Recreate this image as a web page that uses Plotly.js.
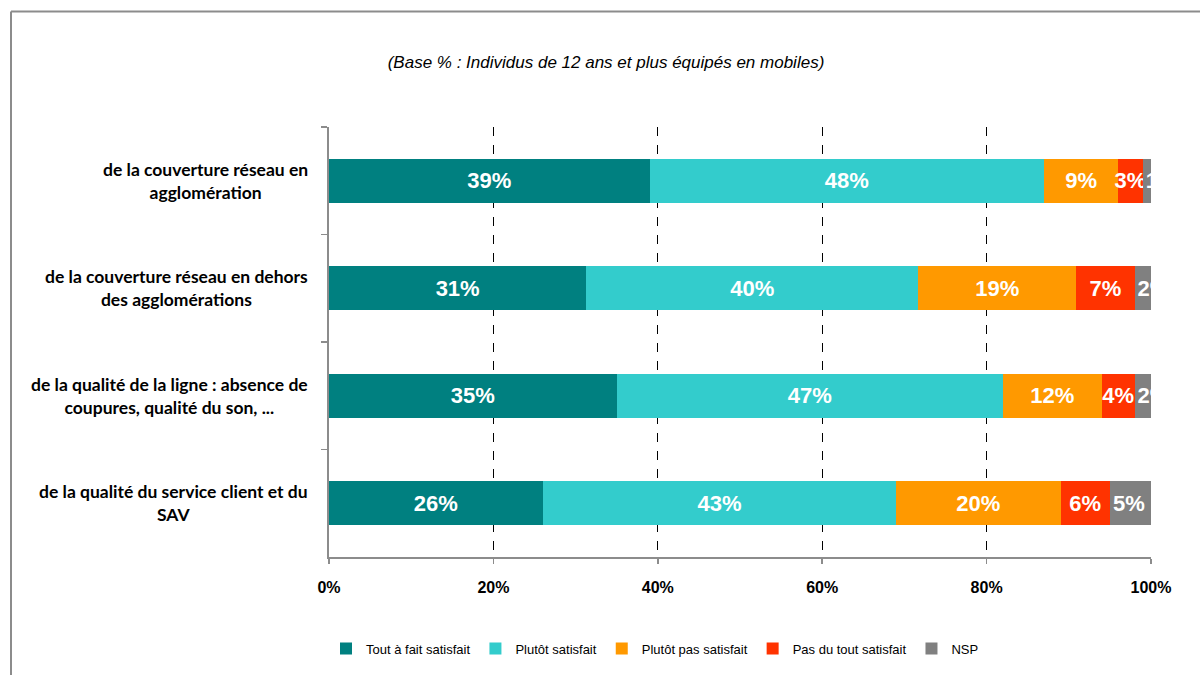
<!DOCTYPE html>
<html>
<head>
<meta charset="utf-8">
<script src="https://cdn.plot.ly/plotly-3.0.1.min.js"></script>
<style>
  html, body { margin: 0; padding: 0; background: #ffffff; }
  #chart { width: 1200px; height: 675px; }
</style>
</head>
<body>
<div id="chart"></div>
<script>
// Categories (top to bottom)
const categories = [
  "de la couverture réseau en<br>agglomération",
  "de la couverture réseau en dehors<br>des agglomérations",
  "de la qualité de la ligne : absence de<br>coupures, qualité du son, ...",
  "de la qualité du service client et du<br>SAV"
];
const categoryKeys = ["c1", "c2", "c3", "c4"];

// Series values (%)
const toutAFait   = [39, 31.3, 35, 26];
const plutotSat   = [48, 40.4, 47, 43];
const plutotPas   = [9, 19.2, 12, 20];
const pasDuTout   = [3, 7.1, 4, 6];
const nsp         = [1, 2, 2, 5];

const seriesNames  = ["Tout à fait satisfait", "Plutôt satisfait", "Plutôt pas satisfait", "Pas du tout satisfait", "NSP"];
const seriesValues = [toutAFait, plutotSat, plutotPas, pasDuTout, nsp];
const seriesColors = ["#008080", "#33CCCC", "#FF9900", "#FF3300", "#808080"];

const xTickVals  = [0, 20, 40, 60, 80, 100];
const xTickText  = ["0%", "20%", "40%", "60%", "80%", "100%"];
const titleText  = "(Base % : Individus de 12 ans et plus équipés en mobiles)";

const traces = seriesValues.map((vals, i) => ({
  type: "bar",
  orientation: "h",
  name: seriesNames[i],
  y: categoryKeys,
  x: vals,
  width: 0.41,
  marker: { color: seriesColors[i], line: { width: 0 } },
  text: vals.map(v => Math.round(v) + "%"),
  texttemplate: "%{text}",
  textposition: "inside",
  insidetextanchor: i === 4 ? "start" : "middle",
  textangle: 0,
  constraintext: "none",
  cliponaxis: true,
  textfont: { family: "Liberation Sans, Arial, sans-serif", size: 22, color: "#ffffff", weight: "bold" },
  hoverinfo: "name+x"
}));

const annotations = categories.map((c, i) => ({
  xref: "paper", yref: "y",
  x: -0.023, y: categoryKeys[i],
  xanchor: "right", yanchor: "middle",
  align: "center",
  text: c,
  showarrow: false,
  font: { family: "Lato, 'Open Sans', sans-serif", size: 17.5, color: "#000000", weight: "bold" }
}));

const layout = {
  width: 1200, height: 675,
  paper_bgcolor: "#ffffff", plot_bgcolor: "#ffffff",
  margin: { l: 329, r: 49, t: 127, b: 116, pad: 0 },
  barmode: "stack",
  bargap: 0.59,
  uniformtext: { mode: "show", minsize: 22 },
  title: {
    text: "<i>" + titleText + "</i>",
    x: 606 / 1200, xref: "container", xanchor: "center",
    y: 1 - 62 / 675, yref: "container", yanchor: "middle",
    font: { family: "Liberation Sans, Arial, sans-serif", size: 17, color: "#000000" }
  },
  xaxis: {
    range: [0, 100],
    tickvals: xTickVals,
    ticktext: xTickText,
    showgrid: true,
    gridcolor: "#000000",
    griddash: "dash",
    gridwidth: 1,
    zeroline: false,
    showline: true,
    linecolor: "#8c8c8c",
    linewidth: 2,
    ticks: "outside",
    ticklen: 5,
    tickcolor: "#8c8c8c",
    tickwidth: 1.5,
    ticklabelstandoff: 10,
    tickfont: { family: "Liberation Sans, Arial, sans-serif", size: 16, color: "#000000", weight: "bold" },
    fixedrange: true
  },
  yaxis: {
    type: "category",
    categoryorder: "array",
    categoryarray: categoryKeys,
    range: [3.5, -0.5],
    showticklabels: false,
    showgrid: false,
    zeroline: false,
    showline: true,
    linecolor: "#8c8c8c",
    linewidth: 2,
    ticks: "outside",
    tickson: "boundaries",
    ticklen: 6,
    tickcolor: "#8c8c8c",
    tickwidth: 1.5,
    fixedrange: true
  },
  showlegend: true,
  legend: {
    orientation: "h",
    x: 0.5 + (655 - 740) / 822, xanchor: "center",
    y: -(651 - 559) / 432, yanchor: "middle",
    font: { family: "Liberation Sans, Arial, sans-serif", size: 13, color: "#000000" },
    itemwidth: 30,
    traceorder: "normal",
    bgcolor: "rgba(0,0,0,0)"
  },
  annotations: annotations,
  shapes: [
    {
      type: "line", xref: "paper", yref: "paper",
      x0: (11 - 329) / 822, x1: (1210 - 329) / 822,
      y0: (559 - 11) / 432, y1: (559 - 11) / 432,
      line: { color: "#8c8c8c", width: 2 }
    },
    {
      type: "line", xref: "paper", yref: "paper",
      x0: (11 - 329) / 822, x1: (11 - 329) / 822,
      y0: (559 - 11) / 432, y1: (559 - 690) / 432,
      line: { color: "#8c8c8c", width: 2 }
    }
  ]
};

Plotly.newPlot("chart", traces, layout, { displayModeBar: false, responsive: false, staticPlot: true });
</script>
</body>
</html>
